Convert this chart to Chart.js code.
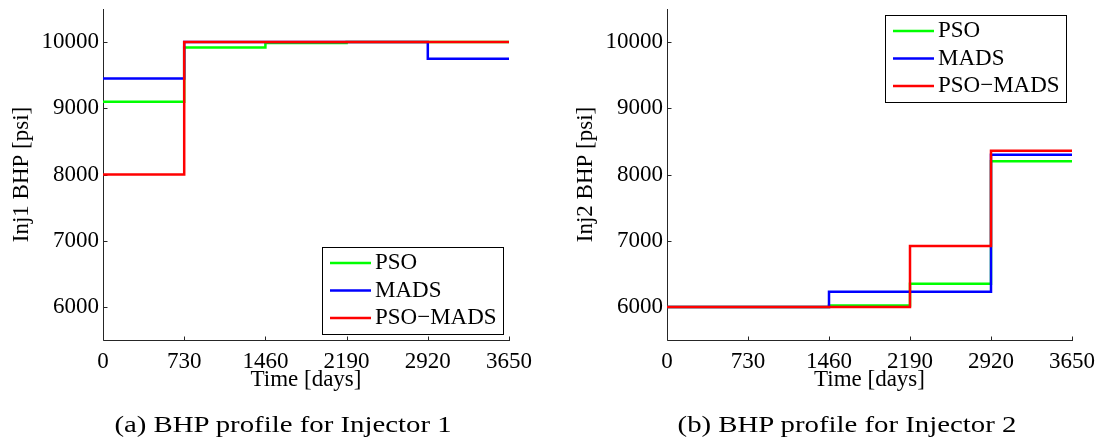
<!DOCTYPE html>
<html>
<head>
<meta charset="utf-8">
<title>BHP profiles for Injector 1 and Injector 2</title>
<script src="https://cdn.jsdelivr.net/npm/chart.js@4.4.1/dist/chart.umd.min.js"></script>
<style>
  html, body { margin: 0; padding: 0; background: #fff; }
  #page { position: relative; width: 1105px; height: 444px; overflow: hidden; }
  canvas { position: absolute; top: 0; }
  .caption {
    position: absolute;
    top: 424px;
    font-family: "Liberation Serif", "Times New Roman", serif;
    font-size: 24px;
    line-height: 1;
    white-space: nowrap;
    color: #000;
    transform: translate(-50%, -50%) scaleX(1.2);
  }
</style>
</head>
<body>
<div id="page">
  <canvas id="inj1" width="560" height="444" style="left:0"></canvas>
  <canvas id="inj2" width="545" height="444" style="left:560px"></canvas>
  <div class="caption" style="left:283px">(a) BHP profile for Injector 1</div>
  <div class="caption" style="left:847px">(b) BHP profile for Injector 2</div>
</div>
<script>
// Control steps: each value holds for one 730-day interval
const timeTicks = [0, 730, 1460, 2190, 2920, 3650];
const bhpTicks = [6000, 7000, 8000, 9000, 10000];
const seriesNames = ['PSO', 'MADS', 'PSO\u2212MADS'];
const seriesColors = ['#00ff00', '#0000ff', '#ff0000'];

const inj1Pso     = [9100, 9920, 9985, 10000, 10000];
const inj1Mads    = [9450, 10000, 10000, 10000, 9750];
const inj1PsoMads = [8000, 10000, 10000, 10000, 10000];

const inj2Pso     = [6000, 6000, 6020, 6350, 8200];
const inj2Mads    = [6000, 6000, 6230, 6230, 8300];
const inj2PsoMads = [6000, 6000, 6000, 6920, 8360];

const FONT = '"Liberation Serif", "Times New Roman", serif';
Chart.defaults.font.family = FONT;
Chart.defaults.font.size = 23;
Chart.defaults.color = '#000';

// piecewise-constant profile: one point per interval start plus the end time
function stepPoints(values) {
  const pts = values.map((v, i) => ({ x: timeTicks[i], y: v }));
  pts.push({ x: timeTicks[timeTicks.length - 1], y: values[values.length - 1] });
  return pts;
}

// MATLAB-style axes: left and bottom lines with inward tick marks
const axisFrame = {
  id: 'axisFrame',
  beforeDatasetsDraw(chart) {
    const { ctx, chartArea: a, scales: { x, y } } = chart;
    const L = Math.round(a.left) + 0.5;
    const B = Math.round(a.bottom) + 0.5;
    ctx.save();
    ctx.strokeStyle = '#262626';
    ctx.lineWidth = 1;
    ctx.beginPath();
    ctx.moveTo(L, Math.round(a.top));
    ctx.lineTo(L, B);
    ctx.lineTo(Math.round(a.right) + 1, B);
    x.ticks.forEach(t => {
      const px = Math.round(x.getPixelForValue(t.value)) + 0.5;
      ctx.moveTo(px, B);
      ctx.lineTo(px, B - 4);
    });
    y.ticks.forEach(t => {
      const py = Math.round(y.getPixelForValue(t.value)) + 0.5;
      ctx.moveTo(L, py);
      ctx.lineTo(L + 4, py);
    });
    ctx.stroke();
    ctx.restore();
  }
};

// boxed legend placed inside the plotting area
const boxLegend = {
  id: 'boxLegend',
  afterDraw(chart, args, opts) {
    const { ctx, chartArea: a } = chart;
    const w = opts.width, h = opts.height, inset = opts.inset;
    const left = Math.round(a.right - inset - w);
    const top = Math.round(opts.corner === 'ne' ? a.top + inset : a.bottom - inset - h);
    ctx.save();
    ctx.fillStyle = '#fff';
    ctx.fillRect(left, top, w, h);
    ctx.strokeStyle = '#000';
    ctx.lineWidth = 1;
    ctx.strokeRect(left + 0.5, top + 0.5, w, h);
    ctx.font = '23px ' + FONT;
    ctx.textBaseline = 'middle';
    ctx.textAlign = 'left';
    chart.data.datasets.forEach((ds, i) => {
      const ry = top + opts.firstRow + i * opts.rowGap;
      ctx.strokeStyle = ds.borderColor;
      ctx.lineWidth = 2.5;
      ctx.beginPath();
      ctx.moveTo(left + 8, ry);
      ctx.lineTo(left + 49, ry);
      ctx.stroke();
      ctx.fillStyle = '#000';
      ctx.fillText(ds.label, left + 53, ry);
    });
    ctx.restore();
  }
};

function makeChart(id, yTitle, series, pad, yTitlePad, corner) {
  const datasets = series.map((vals, i) => ({
    label: seriesNames[i],
    data: stepPoints(vals),
    borderColor: seriesColors[i],
    backgroundColor: seriesColors[i],
    borderWidth: 2.5,
    stepped: true,
    pointRadius: 0,
    fill: false,
    order: series.length - 1 - i
  }));
  return new Chart(document.getElementById(id), {
    type: 'line',
    data: { datasets },
    options: {
      responsive: false,
      animation: false,
      devicePixelRatio: 1,
      layout: { padding: pad },
      plugins: {
        legend: { display: false },
        tooltip: { enabled: false },
        boxLegend: { corner, inset: 6, width: 181, height: 87, firstRow: 16, rowGap: 27.5 }
      },
      scales: {
        x: {
          type: 'linear',
          min: 0,
          max: 3650,
          afterBuildTicks: s => { s.ticks = timeTicks.map(v => ({ value: v })); },
          afterFit: s => { s.height = 54; s.paddingLeft = 0; s.paddingRight = 0; },
          grid: { display: false, drawTicks: false },
          border: { display: false },
          ticks: { padding: 8, maxRotation: 0, autoSkip: false, callback: v => String(v) },
          title: { display: true, text: 'Time [days]', padding: { top: 0, bottom: 0 } }
        },
        y: {
          type: 'linear',
          min: 5500,
          max: 10500,
          afterBuildTicks: s => { s.ticks = bhpTicks.map(v => ({ value: v })); },
          afterFit: s => { s.width = 99; s.paddingTop = 0; s.paddingBottom = 0; },
          grid: { display: false, drawTicks: false },
          border: { display: false },
          ticks: { padding: 4, autoSkip: false, callback: v => String(v) },
          title: { display: true, text: yTitle, padding: { top: yTitlePad, bottom: 0 } }
        }
      }
    },
    plugins: [axisFrame, boxLegend]
  });
}

makeChart('inj1', 'Inj1 BHP [psi]', [inj1Pso, inj1Mads, inj1PsoMads],
  { left: 4, right: 51, top: 9, bottom: 50 }, 4, 'se');
makeChart('inj2', 'Inj2 BHP [psi]', [inj2Pso, inj2Mads, inj2PsoMads],
  { left: 8, right: 33, top: 9, bottom: 50 }, 4, 'ne');
</script>
</body>
</html>
